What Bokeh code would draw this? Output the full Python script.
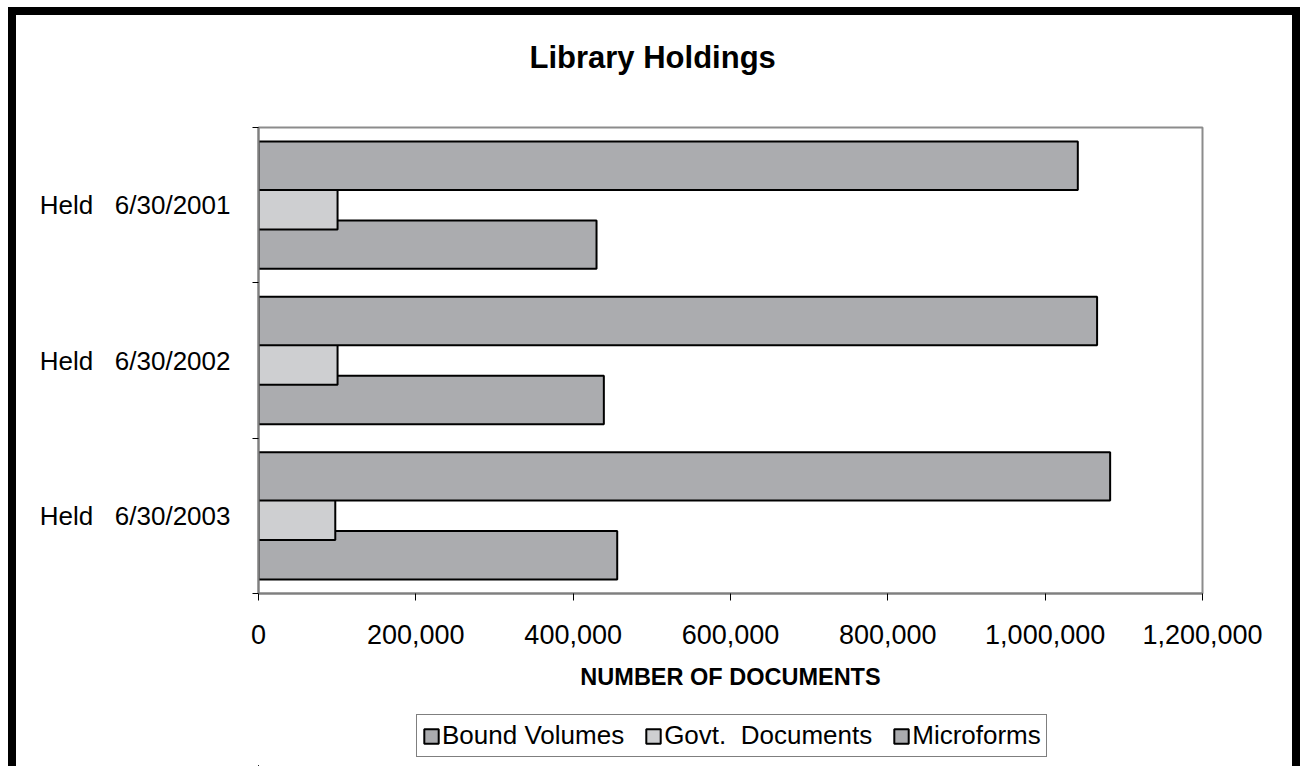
from bokeh.plotting import figure
from bokeh.layouts import column
from bokeh.models import (Range1d, FixedTicker, NumeralTickFormatter, Legend, LegendItem, Title)
from bokeh.embed import file_html
from bokeh.resources import INLINE

# ---- data -------------------------------------------------------------
categories = ["Held   6/30/2001", "Held   6/30/2002", "Held   6/30/2003"]
series_names = ["Bound Volumes", "Govt.  Documents", "Microforms"]
bound_volumes = [1041500, 1066000, 1082600]
govt_documents = [100500, 100500, 97600]
microforms = [429700, 439000, 456000]
x_ticks = [0, 200000, 400000, 600000, 800000, 1000000, 1200000]

FONT = "Liberation Sans"
NBSP = "\u00a0"

n = len(categories)
centers = [n - 1 - i + 0.5 for i in range(n)]
bar_h = 0.312
offsets = {"Bound Volumes": 0.254, "Govt.  Documents": 0.0, "Microforms": -0.254}
colors = {"Bound Volumes": "#ABACAF", "Govt.  Documents": "#CECFD1", "Microforms": "#ABACAF"}
values = {"Bound Volumes": bound_volumes, "Govt.  Documents": govt_documents, "Microforms": microforms}

# ---- main chart ---------------------------------------------------------
p = figure(frame_width=944, frame_height=466, output_backend="svg", toolbar_location=None,
           title=None, x_range=Range1d(0, 1200000), y_range=Range1d(0, n),
           min_border_left=242, min_border_right=90, min_border_top=112, min_border_bottom=120)

for name in ["Microforms", "Govt.  Documents", "Bound Volumes"]:
    ys = [c + offsets[name] for c in centers]
    p.hbar(y=ys, left=0, right=values[name], height=bar_h,
           fill_color=colors[name], line_color="black", line_width=2)

p.xgrid.grid_line_color = None
p.ygrid.grid_line_color = None
p.outline_line_color = "#8c8c8c"
p.outline_line_width = 2
p.background_fill_color = "white"
p.border_fill_color = "white"

# title (spacer nearest the plot frame, then the title text)
top_spacer = Title(text=" ", text_font_size="1px", standoff=50)
p.add_layout(top_spacer, "above")
title = Title(text="Library Holdings", align="left", offset=271, standoff=0,
              text_font=FONT, text_font_size="31px", text_font_style="bold",
              text_color="black")
p.add_layout(title, "above")

# x axis
xa = p.xaxis[0]
xa.ticker = FixedTicker(ticks=x_ticks)
xa.formatter = NumeralTickFormatter(format="0,0")
xa.major_label_text_font = FONT
xa.major_label_text_font_size = "27px"
xa.major_label_text_color = "black"
xa.major_tick_out = 7
xa.major_tick_in = 0
xa.minor_tick_out = 0
xa.minor_tick_in = 0
xa.major_tick_line_color = "black"
xa.axis_line_color = "#7f7f7f"
xa.axis_line_width = 2
xa.major_label_standoff = 24
xa.axis_label = "NUMBER OF DOCUMENTS"
xa.axis_label_text_font = FONT
xa.axis_label_text_font_size = "23.5px"
xa.axis_label_text_font_style = "bold"
xa.axis_label_text_color = "black"
xa.axis_label_standoff = 17

# y axis
ya = p.yaxis[0]
ya.ticker = FixedTicker(ticks=centers, minor_ticks=list(range(n + 1)))
ya.major_label_overrides = {c: lab.replace(" ", NBSP) for c, lab in zip(centers, categories)}
ya.major_tick_out = 0
ya.major_tick_in = 0
ya.minor_tick_out = 6
ya.minor_tick_in = 0
ya.minor_tick_line_color = "black"
ya.axis_line_color = "#7f7f7f"
ya.axis_line_width = 2
ya.major_label_standoff = 22
ya.major_label_text_font = FONT
ya.major_label_text_font_size = "26px"
ya.major_label_text_color = "black"

# ---- legend strip below the chart ----------------------------------------
# same series drawn again, but entirely outside this strip's visible ranges,
# so only the legend swatches show
leg = figure(width=1276, height=53, output_backend="svg", toolbar_location=None,
             x_axis_location=None, y_axis_location=None, title=None,
             x_range=Range1d(1300000, 2500000), y_range=Range1d(n + 10, n + 11),
             min_border=0, outline_line_color=None)
leg.xgrid.grid_line_color = None
leg.ygrid.grid_line_color = None
leg.background_fill_color = "white"
leg.border_fill_color = "white"

proxies = {}
for name in series_names:
    ys = [c + offsets[name] for c in centers]
    proxies[name] = leg.hbar(y=ys, left=0, right=values[name], height=bar_h,
                             fill_color=colors[name], line_color="black", line_width=2)

legend = Legend(items=[LegendItem(label=nm.replace(" ", NBSP), renderers=[proxies[nm]])
                       for nm in series_names],
                orientation="horizontal", location=(158, 9),
                label_text_font=FONT, label_text_font_size="26px", label_text_color="black",
                glyph_width=18, glyph_height=18, label_standoff=2, spacing=20,
                padding=5, margin=0, border_line_color="black", border_line_width=1,
                background_fill_color="white", background_fill_alpha=1.0)
leg.add_layout(legend, "center")

layout = column(p, leg, spacing=0,
                styles={"margin-left": "16px", "margin-top": "15px",
                        "outline": "8px solid black"})

open("out.html", "w").write(file_html(layout, INLINE))
